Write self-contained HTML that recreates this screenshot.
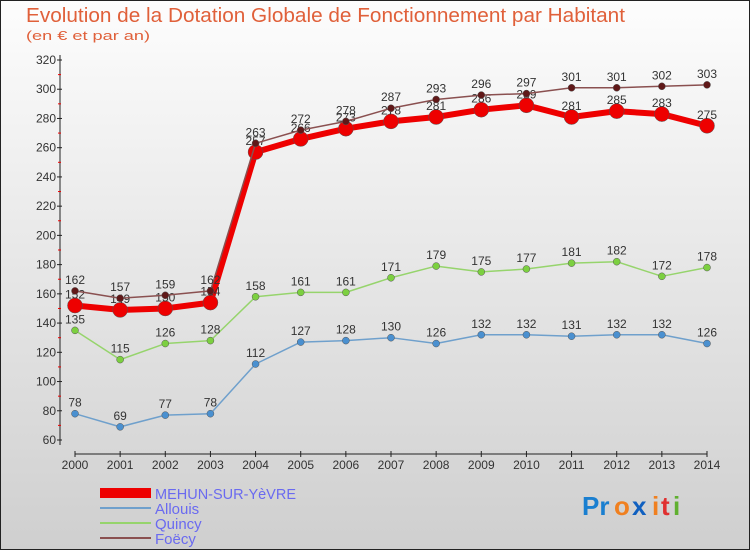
<!DOCTYPE html>
<html><head><meta charset="utf-8"><style>
body{margin:0;}
#c{width:750px;height:550px;position:relative;overflow:hidden;font-family:"Liberation Sans","DejaVu Sans",sans-serif;}
</style></head><body>
<div id="c">
<svg id="s" width="750" height="550" xmlns="http://www.w3.org/2000/svg">
<defs><linearGradient id="bg" x1="0" y1="0" x2="0" y2="1"><stop offset="0" stop-color="#fdfdfd"/><stop offset="1" stop-color="#cfcfcf"/></linearGradient></defs>
<rect x="0.5" y="0.5" width="749" height="549" fill="url(#bg)" stroke="#222"/>
<text x="26" y="22" font-size="20" textLength="599" lengthAdjust="spacingAndGlyphs" fill="#e0603a">Evolution de la Dotation Globale de Fonctionnement par Habitant</text>
<text x="26" y="40" font-size="13" textLength="124" lengthAdjust="spacingAndGlyphs" fill="#e0603a">(en € et par an)</text>
<g id="axes"></g>
<g id="series"></g>
<g id="legend">
<rect x="100" y="488" width="51" height="10" fill="#e00"/>
<text x="155" y="499" font-size="15" textLength="141" lengthAdjust="spacingAndGlyphs" fill="#6a6af0">MEHUN-SUR-YèVRE</text>
<line x1="100" y1="508" x2="151" y2="508" stroke="#6fa0cc" stroke-width="2"/>
<text x="155" y="514" font-size="15" fill="#6a6af0">Allouis</text>
<line x1="100" y1="523" x2="151" y2="523" stroke="#96d46c" stroke-width="2"/>
<text x="155" y="529" font-size="15" fill="#6a6af0">Quincy</text>
<line x1="100" y1="538" x2="151" y2="538" stroke="#8a5050" stroke-width="2"/>
<text x="155" y="544" font-size="15" fill="#6a6af0">Foëcy</text>
</g>
<g font-size="26" font-weight="bold">
<text x="582" y="515" fill="#1a7fd0">Pr</text><text x="614" y="515" fill="#f08020">o</text><text x="632" y="515" fill="#1060c0">x</text><text x="652" y="515" fill="#f08020">i</text><text x="661" y="515" fill="#e03030">t</text><text x="673" y="515" fill="#60b030">i</text>
</g>
</svg>
</div>
<script>
const years=[2000,2001,2002,2003,2004,2005,2006,2007,2008,2009,2010,2011,2012,2013,2014];
const yTicks=[60,80,100,120,140,160,180,200,220,240,260,280,300,320];
const mehun=[152,149,150,154,257,266,273,278,281,286,289,281,285,283,275];
const allouis=[78,69,77,78,112,127,128,130,126,132,132,131,132,132,126];
const quincy=[135,115,126,128,158,161,161,171,179,175,177,181,182,172,178];
const foecy=[162,157,159,162,263,272,278,287,293,296,297,301,301,302,303];
const NS="http://www.w3.org/2000/svg";
function xs(i){return 75+i*(707-75)/(years.length-1);}
function ys(v){return 440-(v-60)*380/260;}
function mk(t,a,p){const e=document.createElementNS(NS,t);for(const k in a)e.setAttribute(k,a[k]);(p||document.getElementById('s')).appendChild(e);return e;}
const ax=document.getElementById('axes');
const yl=mk('line',{x1:60,y1:55,x2:60,y2:445,stroke:'#222'},ax);


yTicks.forEach(v=>{
 const t=mk('text',{x:56,y:ys(v)+4,'font-size':12,fill:'#333','text-anchor':'end'},ax);t.textContent=v;
 
 
 mk('line',{x1:57,y1:ys(v),x2:62,y2:ys(v),stroke:'#222'},ax);
 if(v<320)mk('line',{x1:58,y1:ys(v+10),x2:61,y2:ys(v+10),stroke:'#e00'},ax);
});
const xl=mk('line',{x1:75,y1:454,x2:707,y2:454,stroke:'#222'},ax);


years.forEach((y,i)=>{
 mk('line',{x1:xs(i),y1:451,x2:xs(i),y2:457,stroke:'#222'},ax);
 const t=mk('text',{x:xs(i),y:469,'font-size':12,fill:'#333','text-anchor':'middle'},ax);t.textContent=y;
 
 
});
const sg=document.getElementById('series');
function series(vals,color,lw,r,dot,name){
 const g=mk('g',{},sg);
 
 
 const pl=mk('polyline',{points:vals.map((v,i)=>xs(i)+','+ys(v)).join(' '),fill:'none',stroke:color,'stroke-width':lw,'stroke-linejoin':'round'},g);
 
 
 vals.forEach((v,i)=>{
  const c=mk('circle',{cx:xs(i),cy:ys(v),r:r,fill:dot,stroke:'#555','stroke-width':0.5},g);
  
  
  const t=mk('text',{x:xs(i),y:ys(v)-7,'font-size':12,fill:'#333','text-anchor':'middle'},g);t.textContent=v;
  
  
 });
}
series(allouis,'#6fa0cc',1.5,3.5,'#4a90d0','allouis');
series(quincy,'#96d46c',1.5,3.5,'#7cd040','quincy');
series(mehun,'#e00',6,7.5,'#e00','mehun');
series(foecy,'#8a5050',1.5,3.5,'#601818','foecy');
</script>
</body></html>
